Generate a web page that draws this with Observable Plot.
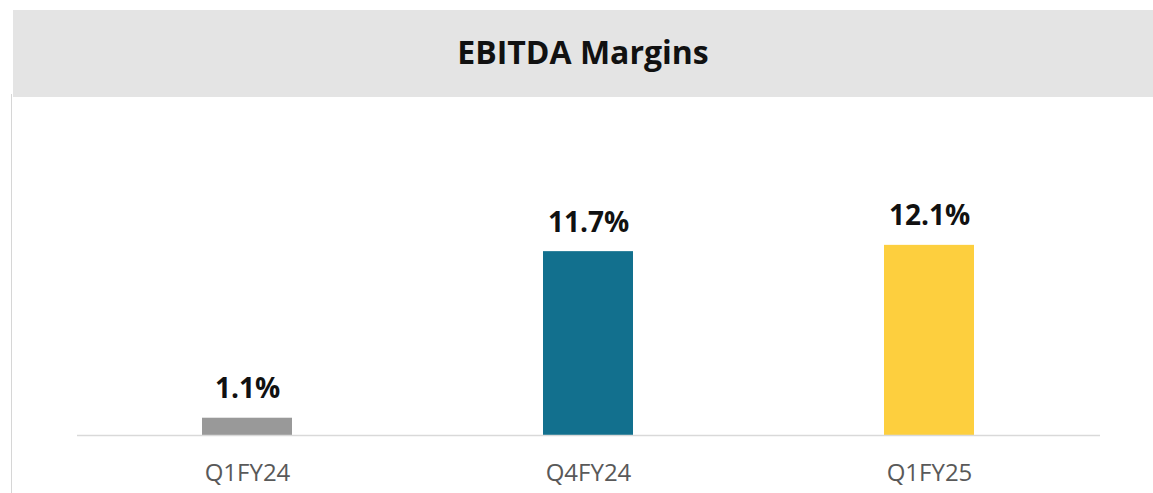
<!DOCTYPE html>
<html>
<head>
<meta charset="utf-8">
<script src="https://cdn.jsdelivr.net/npm/d3@7"></script>
<script src="https://cdn.jsdelivr.net/npm/@observablehq/plot@0.6"></script>
<style>
  html, body { margin: 0; padding: 0; background: #fff; width: 1153px; height: 493px; overflow: hidden; }
  #wrap { position: relative; width: 1153px; height: 493px; }
  #title {
    position: absolute; left: 13px; top: 10px; width: 1140px; height: 87px;
    background: #e4e4e4; display: flex; align-items: center; justify-content: center;
    font-family: "Open Sans", sans-serif; font-weight: 700; font-size: 32px; color: #111;
    box-sizing: border-box; padding-bottom: 4px;
  }
  #vline { position: absolute; left: 11px; top: 94px; width: 1px; height: 399px; background: #d6d6d6; }
  #chart { position: absolute; left: 0; top: 97px; }
</style>
</head>
<body>
<div id="wrap">
  <div id="title">EBITDA Margins</div>
  <div id="vline"></div>
  <div id="chart"></div>
</div>
<script>
const quarters = ["Q1FY24", "Q4FY24", "Q1FY25"];
const margins = [1.1, 11.7, 12.1];
const labels = ["1.1%", "11.7%", "12.1%"];
const colors = ["#999999", "#12708e", "#fdcf3e"];

const data = quarters.map((q, i) => ({quarter: q, value: margins[i], label: labels[i], color: colors[i]}));

const chart = Plot.plot({
  width: 1153,
  height: 396,
  marginLeft: 77,
  marginRight: 53,
  marginTop: 118,
  marginBottom: 58,
  style: {fontFamily: "'Open Sans', sans-serif", background: "transparent"},
  x: {domain: quarters, paddingInner: 0.736, paddingOuter: 0.368, label: null, tickSize: 0, tickPadding: 28},
  y: {domain: [0, 14], axis: null},
  marks: [
    Plot.barY(data, {x: "quarter", y: "value", fill: "color"}),
    Plot.ruleY([0], {stroke: "#d9d9d9", strokeWidth: 1.5}),
    Plot.text(data, {x: "quarter", y: "value", text: "label", lineAnchor: "bottom", dy: -20,
      fontSize: 28, fontWeight: 700, fill: "#111"}),
    Plot.axisX({tickSize: 0, tickPadding: 28, fontSize: 24, color: "#595959", label: null})
  ]
});
document.getElementById("chart").appendChild(chart);
</script>
</body>
</html>
